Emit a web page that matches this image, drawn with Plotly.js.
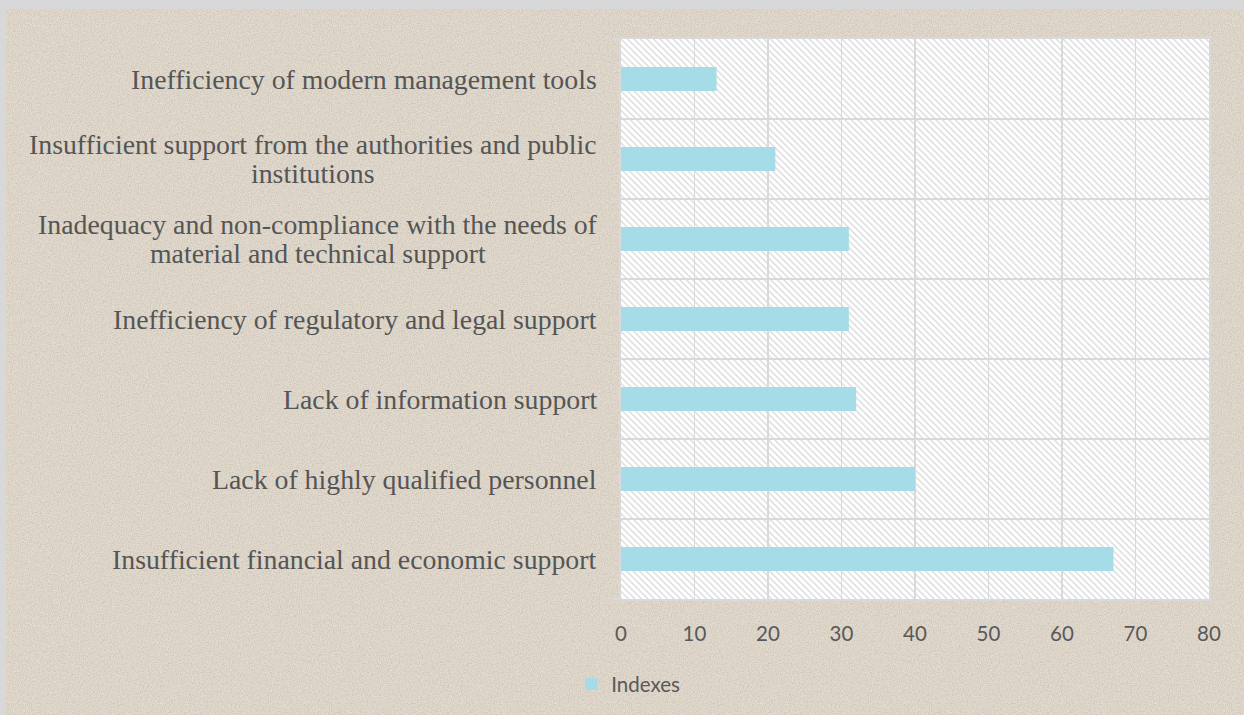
<!DOCTYPE html>
<html>
<head>
<meta charset="utf-8">
<script src="https://cdn.plot.ly/plotly-3.0.1.min.js"></script>
<style>
  html, body { margin: 0; padding: 0; width: 1244px; height: 715px; overflow: hidden; background: #d8d8d8; }
  #bg { position: absolute; left: 6px; top: 9px; width: 1238px; height: 706px; background-color: #e3dbcf; }
  #chart { position: absolute; left: 0; top: 0; width: 1244px; height: 715px; }
</style>
</head>
<body>
<div id="bg"></div>
<div id="chart"></div>
<script>
// ---- data ----
const categories = [
  "Insufficient financial and economic support",
  "Lack of highly qualified personnel",
  "Lack of information support",
  "Inefficiency of regulatory and legal support",
  "Inadequacy and non-compliance with the needs of material and technical support",
  "Insufficient support from the authorities and public institutions",
  "Inefficiency of modern management tools"
];
const tickLabels = [
  "Insufficient financial and economic support",
  "Lack of highly qualified personnel",
  "Lack of information support",
  "Inefficiency of regulatory and legal support",
  "Inadequacy and non-compliance with the needs of<br>material and technical support",
  "Insufficient support from the authorities and public<br>institutions",
  "Inefficiency of modern management tools"
];
const values = [67, 40, 32, 31, 31, 21, 13];
const seriesName = "Indexes";
const xTicks = [0, 10, 20, 30, 40, 50, 60, 70, 80];

// ---- paper texture (decoration) ----
(function () {
  const svg = "<svg xmlns='http://www.w3.org/2000/svg' width='300' height='300'>" +
    "<filter id='n'><feTurbulence type='fractalNoise' baseFrequency='0.9' numOctaves='3' seed='4'/>" +
    "<feColorMatrix type='matrix' values='0 0 0 0 0.45  0 0 0 0 0.40  0 0 0 0 0.33  0 0 0 -1.6 1.05'/></filter>" +
    "<rect width='300' height='300' filter='url(#n)' opacity='0.6'/></svg>";
  document.getElementById('bg').style.backgroundImage = 'url("data:image/svg+xml,' + encodeURIComponent(svg) + '")';
})();

// ---- hatched plot background ----
const hatchSvg = "<svg xmlns='http://www.w3.org/2000/svg' width='588' height='560' viewBox='0 0 588 560' preserveAspectRatio='none'>" +
  "<defs><pattern id='h' patternUnits='userSpaceOnUse' width='6.5' height='6.5'>" +
  "<rect width='6.5' height='6.5' fill='#ffffff'/>" +
  "<path d='M-1,-1 L7.5,7.5 M-1,5.5 L1,7.5 M5.5,-1 L7.5,1' stroke='#d6d6d6' stroke-width='1.2'/></pattern></defs>" +
  "<rect width='588' height='560' fill='url(#h)'/></svg>";
const hatchUri = "data:image/svg+xml," + encodeURIComponent(hatchSvg);

const trace = {
  type: 'bar',
  orientation: 'h',
  y: categories,
  x: values,
  name: seriesName,
  width: 0.3,
  marker: { color: '#a5dce7', line: { width: 0 } },
  showlegend: true,
  hoverinfo: 'x+y'
};

// ---- category labels (centred multi-line, tighter leading) ----
const labelFamily = '"Liberation Serif", "Times New Roman", serif';
const labelSize = 27.8;
const lineHeight = 29;
const labelGap = 24;
const ctx = document.createElement('canvas').getContext('2d');
ctx.font = labelSize + 'px "Liberation Serif"';

const annotations = [];
categories.forEach((c, i) => {
  const lines = tickLabels[i].split('<br>');
  const w0 = ctx.measureText(lines[0]).width;
  lines.forEach((ln, k) => {
    annotations.push({
      xref: 'paper', yref: 'y',
      x: 0, y: c,
      xanchor: 'center', yanchor: 'middle',
      xshift: -labelGap - w0 / 2,
      yshift: ((lines.length - 1) / 2 - k) * lineHeight,
      align: 'center',
      showarrow: false,
      text: ln,
      font: { family: labelFamily, size: labelSize, color: '#555555' }
    });
  });
});

const gridColor = '#d9d9d9';

const layout = {
  width: 1244,
  height: 715,
  margin: { l: 621, r: 35, t: 39, b: 116, pad: 0 },
  paper_bgcolor: 'rgba(0,0,0,0)',
  plot_bgcolor: 'rgba(0,0,0,0)',
  xaxis: {
    range: [0, 80],
    tickvals: xTicks,
    ticktext: xTicks.map(String),
    showgrid: true,
    gridcolor: gridColor,
    gridwidth: 1.6,
    zeroline: false,
    showline: true,
    mirror: true,
    linecolor: gridColor,
    linewidth: 1.6,
    ticks: '',
    ticklabelstandoff: 16,
    tickfont: { family: 'Lato, "Open Sans", sans-serif', size: 20.5, color: '#595959' },
    fixedrange: true
  },
  yaxis: {
    type: 'category',
    categoryorder: 'array',
    categoryarray: categories,
    range: [-0.5, 6.5],
    tickson: 'boundaries',
    ticks: 'outside',
    ticklen: 7,
    tickwidth: 1.6,
    tickcolor: gridColor,
    showticklabels: false,
    showgrid: true,
    gridcolor: gridColor,
    gridwidth: 1.6,
    showline: true,
    mirror: true,
    linecolor: gridColor,
    linewidth: 1.6,
    fixedrange: true
  },
  images: [{
    source: hatchUri,
    xref: 'paper', yref: 'paper',
    x: 0, y: 1, sizex: 1, sizey: 1,
    xanchor: 'left', yanchor: 'top',
    sizing: 'stretch',
    layer: 'below'
  }],
  annotations: annotations,
  showlegend: true,
  legend: {
    orientation: 'h',
    xref: 'container', yref: 'container',
    x: 0.505, y: 0.043,
    xanchor: 'center', yanchor: 'middle',
    bgcolor: 'rgba(0,0,0,0)',
    font: { family: 'Lato, "Open Sans", sans-serif', size: 20.5, color: '#595959' },
    itemwidth: 30
  }
};

Plotly.newPlot('chart', [trace], layout, { displayModeBar: false, staticPlot: true });
</script>
</body>
</html>
